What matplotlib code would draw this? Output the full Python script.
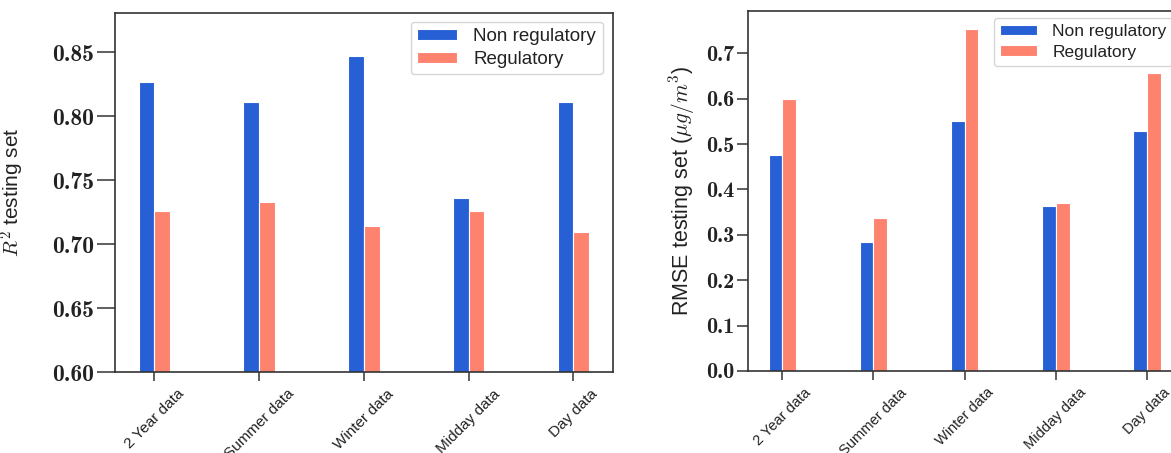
import matplotlib
matplotlib.use("Agg")
import matplotlib.pyplot as plt
import numpy as np

plt.rcParams['font.family'] = ['Liberation Sans', 'DejaVu Sans']
plt.rcParams['mathtext.fontset'] = 'cm'

# data
categories = ["2 Year data", "Summer data", "Winter data", "Midday data", "Day data"]
r2_non_reg = [0.827, 0.811, 0.847, 0.736, 0.811]
r2_reg = [0.726, 0.733, 0.714, 0.726, 0.710]
rmse_non_reg = [0.476, 0.284, 0.550, 0.363, 0.529]
rmse_reg = [0.600, 0.337, 0.754, 0.370, 0.657]
r2_ticks = [0.60, 0.65, 0.70, 0.75, 0.80, 0.85]
rmse_ticks = [0.0, 0.1, 0.2, 0.3, 0.4, 0.5, 0.6, 0.7]

blue = '#2760d4'
salmon = '#fd836f'
dark = '#333333'

W, H = 1171, 453
fig = plt.figure(figsize=(W / 100, H / 100), dpi=100)

ax1 = fig.add_axes([115 / W, 1 - 372.3 / H, 497.7 / W, 359 / H])
ax2 = fig.add_axes([748 / W, 1 - 371 / H, 433.4 / W, 360 / H])

x = np.arange(len(categories))
bw = 0.15


def style(ax, nonreg, reg, ylim, yticks, fmt, tick_fs, ylen, xfs, xpad, leg_fs, leg_anchor, leg_loc):
    ax.bar(x - bw / 2, nonreg, bw, color=blue, edgecolor='white', linewidth=0.8,
           label='Non regulatory')
    ax.bar(x + bw / 2, reg, bw, color=salmon, edgecolor='white', linewidth=0.8,
           label='Regulatory')
    ax.set_xlim(-0.375, len(categories) - 1 + 0.375)
    ax.set_ylim(*ylim)
    ax.set_yticks(yticks)
    ax.set_yticklabels([fmt % v for v in yticks], fontfamily='cmb10', fontsize=tick_fs,
                       color='#222222')
    ax.set_xticks(x)
    ax.set_xticklabels(categories, rotation=45, ha='center', fontsize=xfs, color='#222222')
    for s in ax.spines.values():
        s.set_color(dark)
        s.set_linewidth(1.2)
    ax.tick_params(axis='y', length=ylen, width=1.1, color=dark, pad=2)
    ax.tick_params(axis='x', length=6.5, width=1.1, color=dark, pad=xpad)
    leg = ax.legend(loc=leg_loc, bbox_to_anchor=leg_anchor, bbox_transform=fig.transFigure,
                    borderaxespad=0, fontsize=leg_fs, frameon=True, fancybox=True,
                    handlelength=2.1, handleheight=0.55, handletextpad=0.9,
                    labelspacing=0.3, borderpad=0.35)
    leg.get_frame().set_edgecolor('#cccccc')
    leg.get_frame().set_linewidth(1.0)
    for t in leg.get_texts():
        t.set_color('#222222')


style(ax1, r2_non_reg, r2_reg, (0.60, 0.8805), r2_ticks, '%.2f', 17, 13, 11, 4, 13.5,
      (602.8 / W, 1 - 21.7 / H), 'upper right')
style(ax2, rmse_non_reg, rmse_reg, (0.0, 0.793), rmse_ticks, '%.1f', 16, 8, 10.5, 4, 12.5,
      (994 / W, 1 - 18.3 / H), 'upper left')

ax1.set_ylabel(r'$R^2$ testing set', fontsize=15, color='#222222', va='center')
ax2.set_ylabel(r'RMSE testing set ($\mu g/m^3$)', fontsize=15.5, color='#222222', va='center')
ax1.yaxis.set_label_coords(13 / W, 1 - 192.7 / H, transform=fig.transFigure)
ax2.yaxis.set_label_coords(682 / W, 1 - 191 / H, transform=fig.transFigure)

fig.savefig('out.png', dpi=100)
